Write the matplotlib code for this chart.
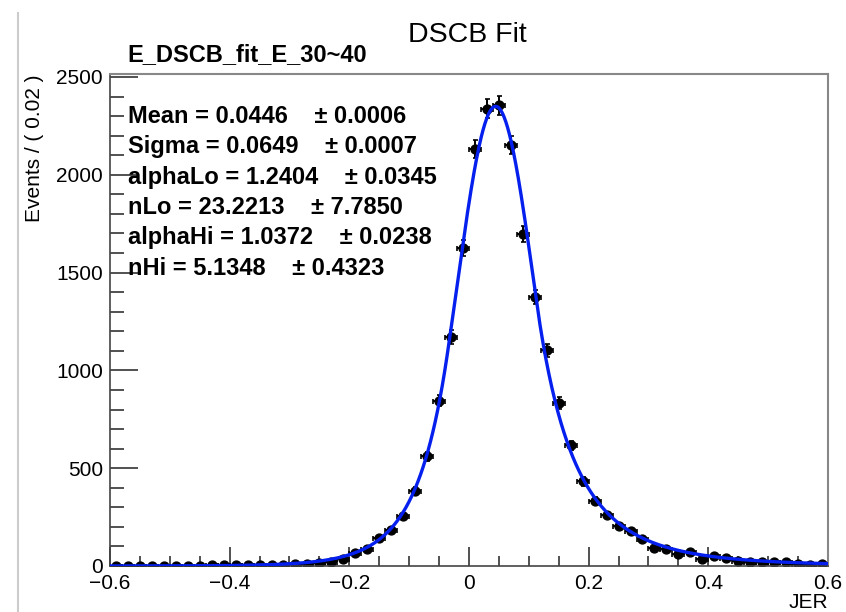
import numpy as np
import matplotlib
matplotlib.use('Agg')
import matplotlib.pyplot as plt
from matplotlib.ticker import MultipleLocator

plt.rcParams['font.family'] = ['Liberation Sans', 'DejaVu Sans']

# bin centres of the JER histogram (width 0.02) and counts per bin
jer = np.round(np.arange(-0.59, 0.6, 0.02), 2)
counts = np.array([1, 0, 1, 1, 2, 1, 2, 2, 3, 3, 3, 4, 5, 5, 7, 8,
                   11, 13, 22, 38, 68, 85, 142, 183, 256, 385, 560, 846, 1171, 1626,
                   2133, 2338, 2355, 2154, 1698, 1374, 1102, 833, 616, 432,
                   334, 262, 205, 180, 137, 92, 89, 61, 69, 34,
                   53, 40, 24, 19, 19, 22, 20, 12, 4, 12])

# fit result shown on the plot
fit_names = ['Mean', 'Sigma', 'alphaLo', 'nLo', 'alphaHi', 'nHi']
fit_values = [0.0446, 0.0649, 1.2404, 23.2213, 1.0372, 5.1348]
fit_errors = [0.0006, 0.0007, 0.0345, 7.7850, 0.0238, 0.4323]
fit_norm = 2350   # peak height of the curve in events / bin

xtick_vals = [-0.6, -0.4, -0.2, 0, 0.2, 0.4, 0.6]
xtick_labels = ['\u22120.6', '\u22120.4', '\u22120.2', '0', '0.2', '0.4', '0.6']
ytick_vals = [0, 500, 1000, 1500, 2000, 2500]


def dscb(x, norm, mean, sigma, aLo, nLo, aHi, nHi):
    t = (x - mean)/sigma
    out = np.exp(-0.5*t**2)
    lo = t < -aLo
    hi = t > aHi
    out[lo] = np.exp(-0.5*aLo**2)*((nLo/aLo)/(nLo/aLo - aLo - t[lo]))**nLo
    out[hi] = np.exp(-0.5*aHi**2)*((nHi/aHi)/(nHi/aHi - aHi + t[hi]))**nHi
    return norm*out


def main():
    fig = plt.figure(figsize=(8.46, 6.12), dpi=100)
    ax = fig.add_axes([0.130, 0.0752, 0.8487, 0.8038])

    ax.errorbar(jer, counts, xerr=0.01, yerr=np.sqrt(counts), fmt='o', color='black',
                markersize=6.4, elinewidth=1.4, capsize=1.8, capthick=1.2, zorder=2)

    xs = np.linspace(-0.6, 0.6, 1200)
    ax.plot(xs, dscb(xs, fit_norm, *fit_values), color='#0520ee', lw=2.4, zorder=3)

    ax.set_xlim(-0.6, 0.6)
    ax.set_ylim(0, 2515)
    ax.set_xticks(xtick_vals, xtick_labels)
    ax.set_yticks(ytick_vals)
    ax.xaxis.set_minor_locator(MultipleLocator(0.05))
    ax.yaxis.set_minor_locator(MultipleLocator(100))
    ax.tick_params(axis='both', which='both', direction='in', labelsize=15,
                   color='#333333', top=False, right=False)
    ax.tick_params(axis='y', which='major', length=20, width=1.2, pad=5)
    ax.tick_params(axis='y', which='minor', length=10, width=1.2)
    ax.tick_params(axis='x', which='major', length=14, width=1.2, pad=6)
    ax.tick_params(axis='x', which='minor', length=7, width=1.2)
    for side in ['left', 'bottom']:
        ax.spines[side].set_color('#444444')
        ax.spines[side].set_linewidth(1.2)
    for side in ['top', 'right']:
        ax.spines[side].set_color('#888888')
        ax.spines[side].set_linewidth(1.5)

    ax.set_xlabel('JER', fontsize=15, loc='right', labelpad=0)
    ax.set_ylabel('Events / ( 0.02 )', fontsize=15, loc='top', labelpad=9)

    fig.text(0.553, 0.943, 'DSCB Fit', fontsize=20.5, ha='center', va='center')
    fig.text(0.151, 0.911, 'E_DSCB_fit_E_30~40', fontsize=17, fontweight='bold',
             ha='left', va='center')

    for i in range(len(fit_names)):
        line = '{0} = {1:.4f}    \u00b1 {2:.4f}'.format(fit_names[i], fit_values[i], fit_errors[i])
        ax.text(0.0255, 0.914 - 0.0618*i, line, transform=ax.transAxes, fontsize=17,
                fontweight='bold', ha='left', va='center')

    # grey border of the screenshot on the left
    fig.add_artist(plt.Line2D([0.0213, 0.0213], [0.0, 0.979], color='#cccccc', lw=1.5))

    fig.savefig('out.png', dpi=100)
    return


main()
